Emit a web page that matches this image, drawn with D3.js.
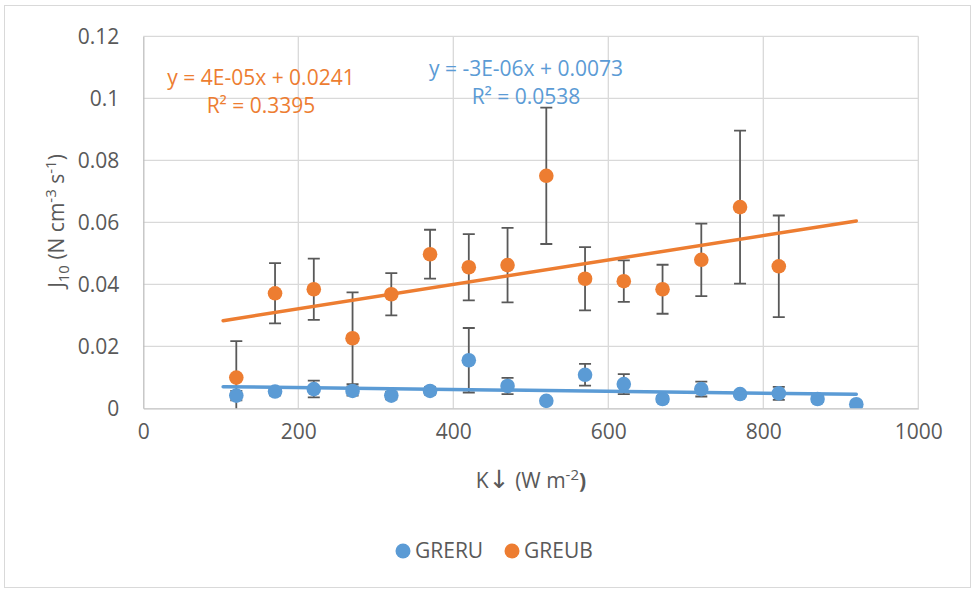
<!DOCTYPE html>
<html>
<head>
<meta charset="utf-8">
<script src="https://cdn.jsdelivr.net/npm/d3@7"></script>
<style>
  html, body { margin: 0; padding: 0; background: #fff; }
  svg { display: block; font-family: "Open Sans", sans-serif; }
</style>
</head>
<body>
<div id="chart"></div>
<script>
// Irradiance (W m-2) per series.
const greruX = [120, 170, 220, 270, 320, 370, 420, 470, 520, 570, 620, 670, 720, 770, 820, 870, 920];
const greruY = [0.0041, 0.0054, 0.0062, 0.0056, 0.0041, 0.0056, 0.0155, 0.0072, 0.0024, 0.0108,
                0.0078, 0.0030, 0.0062, 0.0046, 0.0048, 0.0030, 0.0013];
const greruErr = [0.0015, 0.0012, 0.0027, 0.0015, 0.0012, 0.0012, 0.0104, 0.0026, 0.0008, 0.0035,
                  0.0032, 0.0010, 0.0024, 0.0010, 0.0021, 0.0010, 0.0008];

const greubX = [120, 170, 220, 270, 320, 370, 420, 470, 520, 570, 620, 670, 720, 770, 820];
const greubY = [0.0099, 0.0371, 0.0384, 0.0226, 0.0368, 0.0497, 0.0455, 0.0462, 0.0750, 0.0418,
                0.0410, 0.0384, 0.0479, 0.0649, 0.0458];
const greubErr = [0.0118, 0.0097, 0.0099, 0.0148, 0.0068, 0.0079, 0.0107, 0.0120, 0.0220, 0.0102,
                  0.0067, 0.0079, 0.0117, 0.0247, 0.0164];

// Linear trendlines: [slope, intercept], drawn over this x range.
const greruFit = [-3.0e-6, 0.00728];
const greubFit = [3.94e-5, 0.0242];
const fitRange = [103, 920];

const greruLabel = ['y = -3E-06x + 0.0073', 'R² = 0.0538'];
const greubLabel = ['y = 4E-05x + 0.0241', 'R² = 0.3395'];

const xTicks = [0, 200, 400, 600, 800, 1000];
const yTicks = [0, 0.02, 0.04, 0.06, 0.08, 0.1, 0.12];
const seriesNames = ['GRERU', 'GREUB'];

const blue = '#5b9bd5';
const orange = '#ed7d31';
const textColor = '#595959';
const fontSize = '21px';
const supSize = '15px';

const width = 973;
const height = 590;

const svg = d3.select('#chart')
  .append('svg')
  .attr('width', width)
  .attr('height', height);

// Chart area border.
svg.append('rect')
  .attr('x', 4.5)
  .attr('y', 5.5)
  .attr('width', 966)
  .attr('height', 582)
  .style('fill', '#fff')
  .style('stroke', '#d9d9d9');

const x = d3.scaleLinear().domain([0, 1000]).range([143.3, 918.3]);
const y = d3.scaleLinear().domain([0, 0.12]).range([408.3, 36.3]);

// Gridlines.
const grid = svg.append('g').classed('grid', true);
grid.selectAll('line.v')
  .data(xTicks.slice(1))
  .enter()
  .append('line')
  .attr('x1', d => x(d))
  .attr('x2', d => x(d))
  .attr('y1', y(0.12))
  .attr('y2', y(0))
  .style('stroke', '#d9d9d9')
  .style('stroke-width', 1.3);
grid.selectAll('line.h')
  .data(yTicks.slice(1))
  .enter()
  .append('line')
  .attr('x1', x(0))
  .attr('x2', x(1000))
  .attr('y1', d => y(d))
  .attr('y2', d => y(d))
  .style('stroke', '#d9d9d9')
  .style('stroke-width', 1.3);

// Axes, styled like the Excel ones: gray line, no ticks.
const xAxis = svg.append('g')
  .attr('transform', `translate(0, ${y(0)})`)
  .call(d3.axisBottom(x).tickValues(xTicks).tickSize(0).tickPadding(16).tickFormat(d3.format('d')));
const yAxis = svg.append('g')
  .attr('transform', `translate(${x(0)}, 0)`)
  .call(d3.axisLeft(y).tickValues(yTicks).tickSize(0).tickPadding(24)
    .tickFormat(d => d === 0 ? '0' : String(+d.toFixed(2))));
[xAxis, yAxis].forEach(a => {
  a.select('.domain').style('stroke', '#bfbfbf').style('stroke-width', 1.3);
  a.selectAll('text')
    .style('font-family', '"Open Sans", sans-serif')
    .style('font-size', fontSize)
    .style('fill', textColor);
});

// Axis titles.
const xTitle = svg.append('text')
  .attr('x', 531)
  .attr('y', 488)
  .style('text-anchor', 'middle')
  .style('font-size', fontSize)
  .style('fill', textColor);
xTitle.append('tspan').text('K');
xTitle.append('tspan')
  .style('font-family', '"DejaVu Sans", sans-serif')
  .style('font-size', '25px')
  .text('↓');
xTitle.append('tspan').text(' (W m');
xTitle.append('tspan').attr('dy', -8).style('font-size', supSize).text('-2');
xTitle.append('tspan').attr('dy', 8).style('font-weight', 'bold').text(')');

const yTitle = svg.append('text')
  .attr('transform', 'translate(64, 221) rotate(-90)')
  .style('text-anchor', 'middle')
  .style('font-size', fontSize)
  .style('fill', textColor);
yTitle.append('tspan').text('J');
yTitle.append('tspan').attr('dy', 5).style('font-size', supSize).text('10');
yTitle.append('tspan').attr('dy', -5).text(' (N cm');
yTitle.append('tspan').attr('dy', -8).style('font-size', supSize).text('-3');
yTitle.append('tspan').attr('dy', 8).text(' s');
yTitle.append('tspan').attr('dy', -8).style('font-size', supSize).text('-1');
yTitle.append('tspan').attr('dy', 8).text(')');

// Clip marks to the plot area.
svg.append('clipPath')
  .attr('id', 'plot-clip')
  .append('rect')
  .attr('x', x(0))
  .attr('y', y(0.12))
  .attr('width', x(1000) - x(0))
  .attr('height', y(0) - y(0.12));

const plot = svg.append('g').attr('clip-path', 'url(#plot-clip)');

const series = [
  { xs: greubX, ys: greubY, errs: greubErr, color: orange },
  { xs: greruX, ys: greruY, errs: greruErr, color: blue }
];

series.forEach(s => {
  const pts = s.xs.map((v, i) => ({ x: v, y: s.ys[i], e: s.errs[i] }));
  const bars = plot.append('g')
    .selectAll('g')
    .data(pts)
    .enter()
    .append('g')
    .style('stroke', '#595959')
    .style('stroke-width', 1.8);
  bars.append('line')
    .attr('x1', d => x(d.x))
    .attr('x2', d => x(d.x))
    .attr('y1', d => y(d.y - d.e))
    .attr('y2', d => y(d.y + d.e));
  bars.append('line')
    .attr('x1', d => x(d.x) - 6)
    .attr('x2', d => x(d.x) + 6)
    .attr('y1', d => y(d.y + d.e))
    .attr('y2', d => y(d.y + d.e));
  bars.append('line')
    .attr('x1', d => x(d.x) - 6)
    .attr('x2', d => x(d.x) + 6)
    .attr('y1', d => y(d.y - d.e))
    .attr('y2', d => y(d.y - d.e));

  plot.append('g')
    .selectAll('circle')
    .data(pts)
    .enter()
    .append('circle')
    .attr('cx', d => x(d.x))
    .attr('cy', d => y(d.y))
    .attr('r', 7.3)
    .style('fill', s.color);
});

// Trendlines.
const line = d3.line().x(d => x(d[0])).y(d => y(d[1]));
[[greubFit, orange], [greruFit, blue]].forEach(([fit, color]) => {
  plot.append('path')
    .datum(fitRange.map(v => [v, fit[0] * v + fit[1]]))
    .attr('d', line)
    .style('fill', 'none')
    .style('stroke', color)
    .style('stroke-width', 3.5)
    .style('stroke-linecap', 'round');
});

// Trendline labels.
const labels = [
  { lines: greubLabel, cx: 261, top: 85, color: orange },
  { lines: greruLabel, cx: 526, top: 76, color: blue }
];
labels.forEach(l => {
  l.lines.forEach((t, i) => {
    svg.append('text')
      .attr('x', l.cx)
      .attr('y', l.top + i * 28)
      .style('text-anchor', 'middle')
      .style('font-size', fontSize)
      .style('fill', l.color)
      .text(t);
  });
});

// Legend.
const legend = svg.append('g')
  .selectAll('g')
  .data(seriesNames)
  .enter()
  .append('g')
  .attr('transform', (d, i) => `translate(${403 + i * 109}, 551)`);
legend.append('circle')
  .attr('r', 7.5)
  .style('fill', (d, i) => i === 0 ? blue : orange);
legend.append('text')
  .attr('x', 12)
  .attr('y', 7)
  .style('font-size', fontSize)
  .style('fill', textColor)
  .text(d => d);
</script>
</body>
</html>
